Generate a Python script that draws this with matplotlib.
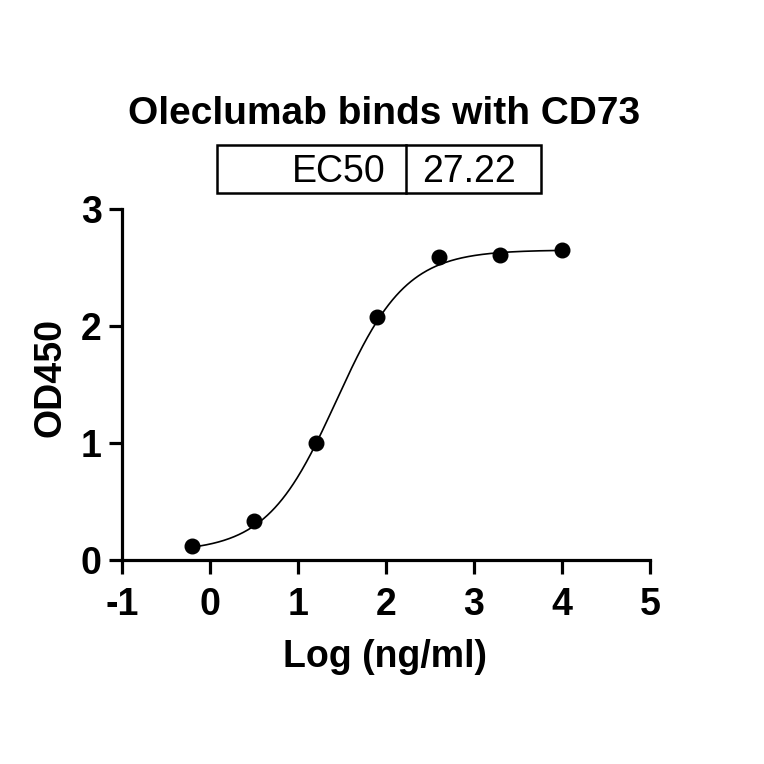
import numpy as np
import matplotlib
matplotlib.use("Agg")
import matplotlib.pyplot as plt
from matplotlib.patches import Rectangle

# data
log_conc = [-0.2, 0.5, 1.2, 1.9, 2.6, 3.3, 4.0]
od450 = [0.12, 0.33, 1.00, 2.08, 2.59, 2.61, 2.65]
ec50 = 27.22
fit_bottom = 0.07
fit_top = 2.65
fit_hill = 1.1
x_ticks = [-1, 0, 1, 2, 3, 4, 5]
y_ticks = [0, 1, 2, 3]

plt.rcParams['font.family'] = ['Liberation Sans', 'DejaVu Sans']

W = 764
fig = plt.figure(figsize=(7.64, 7.64), dpi=100)
ax = fig.add_axes([122 / W, 1 - 560 / W, (650 - 122) / W, (560 - 209) / W])

xs = np.linspace(min(log_conc), max(log_conc), 400)
ys = fit_bottom + (fit_top - fit_bottom) / (1 + 10 ** ((np.log10(ec50) - xs) * fit_hill))
ax.plot(xs, ys, color='black', lw=1.2, clip_on=False)
ax.plot(log_conc, od450, 'o', color='black', ms=10.5, clip_on=False)

ax.set_xlim(-1, 5)
ax.set_ylim(0, 3)
ax.set_xticks(x_ticks)
ax.set_yticks(y_ticks)
ax.set_xticklabels([str(t) for t in x_ticks], fontsize=27, fontweight='bold')
ax.set_yticklabels([str(t) for t in y_ticks], fontsize=27, fontweight='bold')
for s in ['top', 'right']:
    ax.spines[s].set_visible(False)
for s in ['left', 'bottom']:
    ax.spines[s].set_linewidth(2.3)
ax.tick_params(axis='x', length=10, width=2.3, pad=9.5)
ax.tick_params(axis='y', length=9.5, width=2.3, pad=5)

ax.set_xlabel('Log (ng/ml)', fontsize=27, fontweight='bold')
ax.xaxis.set_label_coords(0.5 + (385 - 386) / 528, (560 - 667) / 351)
ax.xaxis.label.set_va('baseline')
ax.xaxis.label.set_ha('center')

fig.text(61 / W, 1 - 377.5 / W, 'OD450', fontsize=27, fontweight='bold',
         rotation=90, rotation_mode='anchor', ha='center', va='baseline')

fig.text(384.5 / W, 1 - 124 / W, 'Oleclumab binds with CD73', fontsize=28,
         fontweight='bold', ha='center', va='baseline')

# EC50 table
fig.patches.append(Rectangle((217 / W, 1 - 193 / W), (541 - 217) / W, (193 - 145) / W,
                             transform=fig.transFigure, fill=False, lw=1.8, ec='black'))
fig.add_artist(plt.Line2D([406 / W, 406 / W], [1 - 193 / W, 1 - 145 / W],
                          transform=fig.transFigure, color='black', lw=1.8))
fig.text(386 / W, 1 - 182 / W, 'EC50', fontsize=27, ha='right', va='baseline')
fig.text(469.5 / W, 1 - 182 / W, f'{ec50:.2f}', fontsize=27, ha='center', va='baseline')

fig.savefig('out.png', dpi=100, facecolor='white')
